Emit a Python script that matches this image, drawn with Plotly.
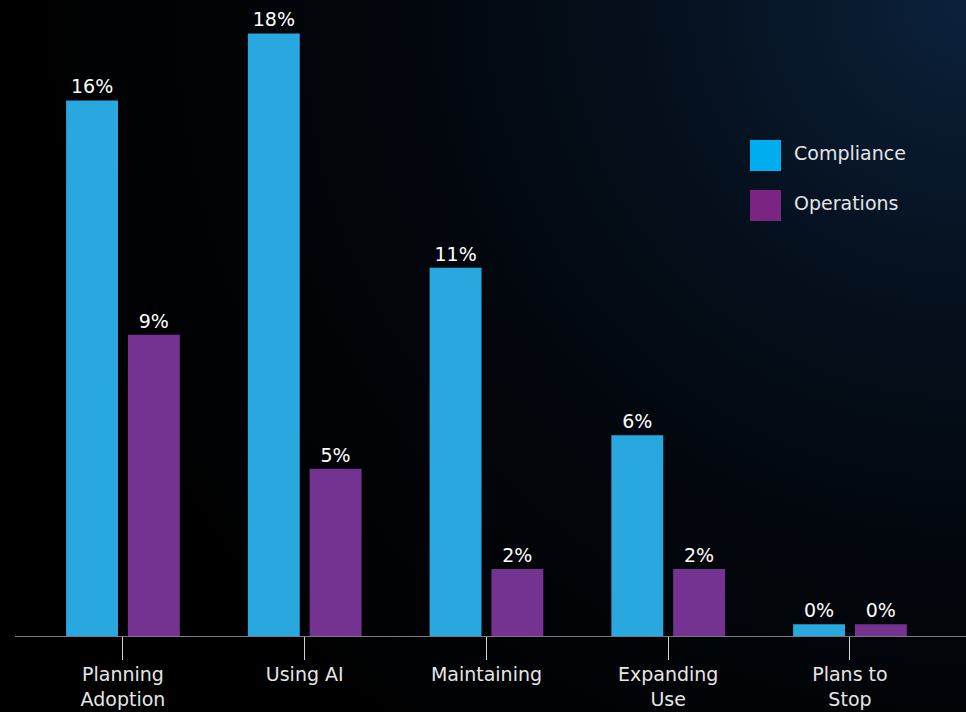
import base64
import plotly.graph_objects as go

# Survey categories and shares (%) for each group
categories = ["Planning<br>Adoption", "Using AI", "Maintaining", "Expanding<br>Use", "Plans to<br>Stop"]
series_names = ["Compliance", "Operations"]
compliance = [16, 18, 11, 6, 0.35]
operations = [9, 5, 2, 2, 0.35]

bar_colors = ["#29A8E0", "#753391"]
legend_colors = ["#00AEEF", "#7B2482"]

W, H = 966, 712
ML, MR, MT, MB = 15, 0, 0, 76
PW, PH = W - ML - MR, H - MT - MB

FONT = "DejaVu Sans"

fig = go.Figure()
for name, vals, col in zip(series_names, [compliance, operations], bar_colors):
    fig.add_trace(go.Bar(
        x=list(range(len(categories))),
        y=vals,
        name=name,
        marker=dict(color=col, line=dict(width=0)),
        text=vals,
        texttemplate="%{y:.0f}%",
        textposition="outside",
        textfont=dict(color="#ffffff", size=19, family=FONT),
        cliponaxis=False,
        showlegend=False,
    ))

# background: dark navy glow in the top-right corner fading to black
svg = (
    "<svg xmlns='http://www.w3.org/2000/svg' width='966' height='712' viewBox='0 0 966 712' "
    "preserveAspectRatio='none'><defs><radialGradient id='g' cx='966' cy='0' r='950' "
    "gradientUnits='userSpaceOnUse'>"
    "<stop offset='0' stop-color='#0b213b'/>"
    "<stop offset='0.3' stop-color='#06111f'/>"
    "<stop offset='0.6' stop-color='#02060c'/>"
    "<stop offset='1' stop-color='#000000'/>"
    "</radialGradient></defs><rect width='966' height='712' fill='url(#g)'/></svg>"
)
bg_src = "data:image/svg+xml;base64," + base64.b64encode(svg.encode()).decode()


def px_x(px):
    return (px - ML) / PW


def px_y(py):
    return (H - MB - py) / PH


images = [dict(
    source=bg_src, xref="paper", yref="paper",
    x=px_x(0), y=px_y(0), sizex=W / PW, sizey=H / PH,
    xanchor="left", yanchor="top", sizing="stretch", layer="below",
)]

# legend drawn as large swatches with labels
shapes = []
annotations = []
for i, (name, col) in enumerate(zip(series_names, legend_colors)):
    top = 140 + i * 50
    shapes.append(dict(
        type="rect", xref="paper", yref="paper",
        x0=px_x(750), x1=px_x(781), y0=px_y(top + 31), y1=px_y(top),
        fillcolor=col, line=dict(width=0),
    ))
    annotations.append(dict(
        xref="paper", yref="paper", x=px_x(792), y=px_y(top + 13),
        text=name, showarrow=False, xanchor="left", yanchor="middle",
        font=dict(color="#e2e4e8", size=19, family=FONT),
    ))

fig.update_layout(
    width=W, height=H,
    margin=dict(l=ML, r=MR, t=MT, b=MB, pad=0, autoexpand=False),
    paper_bgcolor="#000000",
    plot_bgcolor="rgba(0,0,0,0)",
    barmode="group",
    bargap=0.32,
    bargroupgap=0.16,
    images=images,
    shapes=shapes,
    annotations=annotations,
    font=dict(family=FONT, color="#e6e6e6"),
    xaxis=dict(
        range=[-0.594, -0.594 + PW / 181.75],
        tickmode="array",
        tickvals=list(range(len(categories))),
        ticktext=categories,
        ticks="outside", ticklen=23, tickwidth=1, tickcolor="#d0d0d0",
        ticklabelstandoff=-2,
        showline=True, linecolor="#7a7a7a", linewidth=1,
        showgrid=False, zeroline=False, automargin=False,
        tickfont=dict(size=19, color="#e6e6e6", family=FONT),
        fixedrange=True,
    ),
    yaxis=dict(
        range=[0, 19.0],
        visible=False, showgrid=False, zeroline=False,
        fixedrange=True,
    ),
)

fig.write_html("out.html")
